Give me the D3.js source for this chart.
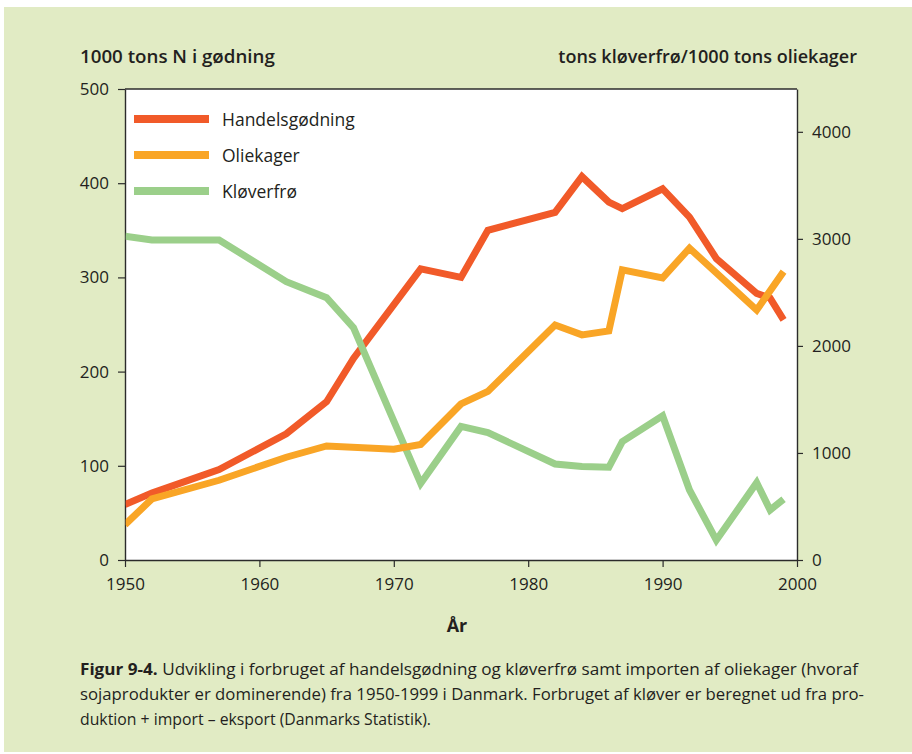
<!DOCTYPE html>
<html>
<head>
<meta charset="utf-8">
<script src="https://cdn.jsdelivr.net/npm/d3@7"></script>
<style>
html,body{margin:0;padding:0;background:#fff;}
svg{display:block;}
text{font-family:"Open Sans","Lato",sans-serif;fill:#231f20;}
</style>
</head>
<body>
<svg id="chart" width="912" height="754"></svg>
<script>
// ---- data ----
const handelYears = [1950,1952,1957,1962,1965,1967,1972,1975,1977,1982,1984,1986,1987,1990,1992,1994,1997,1998,1999];
const handelValues = [59,71,96,134,168,214,309,300,350,369,407,380,373,394,364,320,283,278,255];

const olieYears = [1950,1952,1957,1962,1965,1970,1972,1975,1977,1982,1984,1986,1987,1990,1992,1997,1999];
const olieValues = [330,570,745,960,1065,1035,1080,1458,1575,2195,2103,2140,2710,2635,2913,2335,2694];

const kloverYears = [1950,1952,1957,1962,1965,1967,1972,1975,1977,1982,1984,1986,1987,1990,1992,1994,1997,1998,1999];
const kloverValues = [3025,2990,2990,2600,2450,2170,715,1248,1190,897,873,866,1106,1346,654,185,722,467,568];

const seriesNames = ["Handelsgødning","Oliekager","Kløverfrø"];
const seriesColors = ["#f15a29","#f9a526","#9bcf8a"];

const leftTicks = [0,100,200,300,400,500];
const rightTicks = [0,1000,2000,3000,4000];
const xTicks = [1950,1960,1970,1980,1990,2000];

const leftTitle = "1000 tons N i gødning";
const rightTitle = "tons kløverfrø/1000 tons oliekager";
const xTitle = "År";
const captionBold = "Figur 9-4.";
const captionLines = [
  " Udvikling i forbruget af handelsgødning og kløverfrø samt importen af oliekager (hvoraf",
  "sojaprodukter er dominerende) fra 1950-1999 i Danmark. Forbruget af kløver er beregnet ud fra pro-",
  "duktion + import – eksport (Danmarks Statistik)."
];

// ---- layout ----
const svg = d3.select("#chart");
const L = 125, R = 797, T = 89, B = 560;

svg.append("rect").attr("x",4).attr("y",7).attr("width",908).attr("height",745).attr("fill","#e1ebc4");
svg.append("rect").attr("x",L).attr("y",T).attr("width",R-L).attr("height",B-T).attr("fill","#fff");

const x = d3.scaleLinear().domain([1950,2000]).range([L,R]);
const yL = d3.scaleLinear().domain([0,500]).range([B,T]);
const yR = d3.scaleLinear().domain([0,4400]).range([B,T]);

function styleAxis(g){
  g.selectAll("path.domain").attr("stroke","#2b2b2b").attr("stroke-width",1.4);
  g.selectAll(".tick line").attr("stroke","#2b2b2b").attr("stroke-width",1.2);
  g.selectAll(".tick text").attr("font-size",17).attr("fill","#231f20")
    .attr("font-family","'Open Sans',sans-serif");
}

const gL = svg.append("g").attr("transform",`translate(${L},0)`)
  .call(d3.axisLeft(yL).tickValues(leftTicks).tickSize(7).tickSizeOuter(0).tickPadding(9).tickFormat(d3.format("d")));
styleAxis(gL);
const gR = svg.append("g").attr("transform",`translate(${R},0)`)
  .call(d3.axisRight(yR).tickValues(rightTicks).tickSize(6).tickSizeOuter(0).tickPadding(9).tickFormat(d3.format("d")));
styleAxis(gR);
const gB = svg.append("g").attr("transform",`translate(0,${B})`)
  .call(d3.axisBottom(x).tickValues(xTicks).tickSize(7).tickSizeOuter(0).tickPadding(11).tickFormat(d3.format("d")));
styleAxis(gB);
// top border
svg.append("line").attr("x1",L).attr("x2",R).attr("y1",T).attr("y2",T).attr("stroke","#2b2b2b").attr("stroke-width",1.4);

// ---- lines ----
const clip = svg.append("clipPath").attr("id","plotclip").append("rect")
  .attr("x",L+0.7).attr("y",T).attr("width",R-L-1.4).attr("height",B-T-0.7);

function drawSeries(years, values, yScale, color){
  const data = years.map((yr,i)=>({yr, v: values[i]}));
  const line = d3.line().x(d=>x(d.yr)).y(d=>yScale(d.v));
  svg.append("path").datum(data).attr("d",line)
    .attr("fill","none").attr("stroke",color).attr("stroke-width",7)
    .attr("stroke-linejoin","miter").attr("stroke-miterlimit",3)
    .attr("clip-path","url(#plotclip)");
}
drawSeries(handelYears, handelValues, yL, seriesColors[0]);
drawSeries(kloverYears, kloverValues, yR, seriesColors[2]);
drawSeries(olieYears, olieValues, yR, seriesColors[1]);

// ---- legend ----
const legY = [119,155,191];
seriesNames.forEach((n,i)=>{
  svg.append("line").attr("x1",134).attr("x2",209).attr("y1",legY[i]).attr("y2",legY[i])
    .attr("stroke",seriesColors[i]).attr("stroke-width",8);
  svg.append("text").attr("x",222).attr("y",legY[i]+6.5).attr("font-size",17.5).text(n);
});

// ---- titles ----
function fitWidth(sel, w){
  const cur = sel.node().getComputedTextLength();
  const fs = parseFloat(sel.attr("font-size"));
  sel.attr("font-size", fs*w/cur);
}
const lt = svg.append("text").attr("x",80).attr("y",63).attr("font-size",18).attr("font-weight",600).text(leftTitle);
fitWidth(lt,195);
const rt = svg.append("text").attr("x",857).attr("y",63).attr("text-anchor","end").attr("font-size",18).attr("font-weight",600).text(rightTitle);
fitWidth(rt,299);
svg.append("text").attr("x",(L+R)/2-4).attr("y",632).attr("text-anchor","middle").attr("font-size",18).attr("font-weight",700).text(xTitle);

// ---- caption ----
const capY = [675,700,725];
const capW = [778,784,351];
captionLines.forEach((s,i)=>{
  const t = svg.append("text").attr("x",80).attr("y",capY[i]).attr("font-size",16.3)
    .attr("textLength",capW[i]).attr("lengthAdjust","spacingAndGlyphs");
  if(i===0){
    t.append("tspan").attr("font-weight",700).text(captionBold);
    t.append("tspan").text(s);
  } else {
    t.text(s);
  }
});
</script>
</body>
</html>
